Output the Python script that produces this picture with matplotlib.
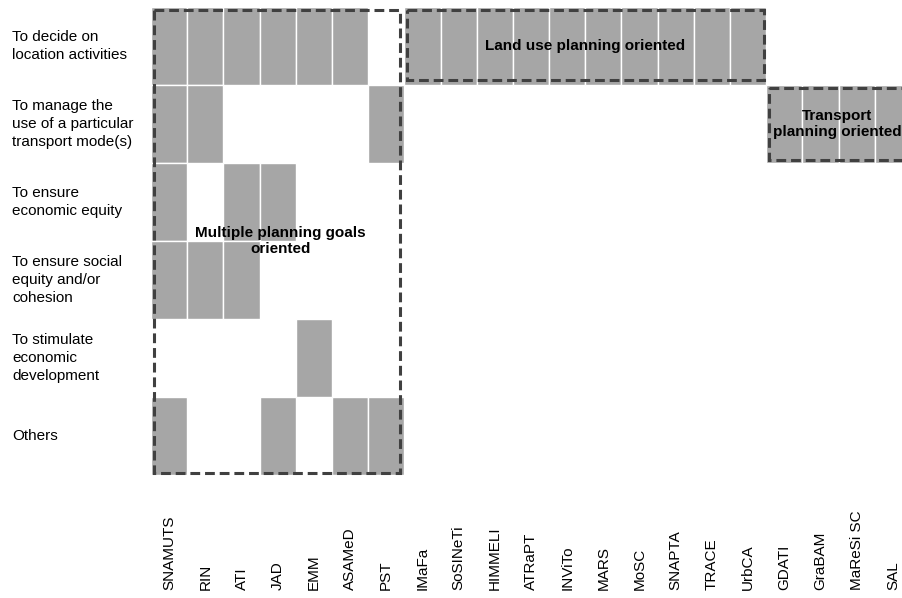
import matplotlib.pyplot as plt
from matplotlib.patches import Rectangle

plt.rcParams['font.family'] = ['Liberation Sans', 'DejaVu Sans']

tools = ['SNAMUTS', 'RIN', 'ATI', 'JAD', 'EMM', 'ASAMeD', 'PST',
         'IMaFa', 'SoSINeTi', 'HIMMELI', 'ATRaPT', 'INViTo', 'MARS',
         'MoSC', 'SNAPTA', 'TRACE', 'UrbCA',
         'GDATI', 'GraBAM', 'MaReSi SC', 'SAL']

goals = ['To decide on\nlocation activities',
         'To manage the\nuse of a particular\ntransport mode(s)',
         'To ensure\neconomic equity',
         'To ensure social\nequity and/or\ncohesion',
         'To stimulate\neconomic\ndevelopment',
         'Others']

# which tools address each goal
loc_activities = ['SNAMUTS', 'RIN', 'ATI', 'JAD', 'EMM', 'ASAMeD',
                  'IMaFa', 'SoSINeTi', 'HIMMELI', 'ATRaPT', 'INViTo',
                  'MARS', 'MoSC', 'SNAPTA', 'TRACE', 'UrbCA']
transport_mode = ['SNAMUTS', 'RIN', 'PST', 'GDATI', 'GraBAM', 'MaReSi SC', 'SAL']
economic_equity = ['SNAMUTS', 'ATI', 'JAD']
social_equity = ['SNAMUTS', 'RIN', 'ATI']
economic_dev = ['EMM']
others = ['SNAMUTS', 'JAD', 'ASAMeD', 'PST']
rows = [loc_activities, transport_mode, economic_equity,
        social_equity, economic_dev, others]

W, H = 902, 598
fig = plt.figure(figsize=(W / 100, H / 100), dpi=100)
left, right, top, bottom = 151, 911, 7, 475
ax = fig.add_axes([left / W, 1 - bottom / H, (right - left) / W, (bottom - top) / H])

for r, members in enumerate(rows):
    xs = [tools.index(t) + 0.5 for t in members]
    ax.bar(xs, [1] * len(xs), bottom=r, width=1, color='#a6a6a6',
           edgecolor='white', linewidth=1)

ax.set_xlim(0, len(tools))
ax.set_ylim(len(goals), 0)
for s in ax.spines.values():
    s.set_visible(False)

ax.set_xticks([i + 0.5 for i in range(len(tools))])
ax.set_xticklabels(tools, rotation=90, va='bottom', fontsize=11)
ax.set_yticks([i + 0.5 for i in range(len(goals))])
ax.set_yticklabels(goals, ha='left', va='center', fontsize=11, linespacing=1.35)
ax.tick_params(axis='x', length=0, pad=(590 - bottom) * 0.72)
ax.tick_params(axis='y', length=0, pad=(left - 12) * 0.72)

# dashed group boxes
boxes = [(0.08, 0.04, 6.8, 5.93), (7.07, 0.04, 9.86, 0.9), (17.07, 1.04, 4.3, 0.92)]
for x0, y0, w, h in boxes:
    ax.add_patch(Rectangle((x0, y0), w, h, fill=False, edgecolor='#404040',
                           linewidth=2.2, linestyle=(0, (3.2, 1.6)), clip_on=False))

ax.text(3.58, 3.0, 'Multiple planning goals\noriented', ha='center', va='center',
        fontsize=11, fontweight='bold', linespacing=1.2)
ax.text(12.0, 0.5, 'Land use planning oriented', ha='center', va='center',
        fontsize=11, fontweight='bold')
ax.text(18.96, 1.5, 'Transport\nplanning oriented', ha='center', va='center',
        fontsize=11, fontweight='bold', linespacing=1.2)

fig.savefig('out.png', dpi=100)
